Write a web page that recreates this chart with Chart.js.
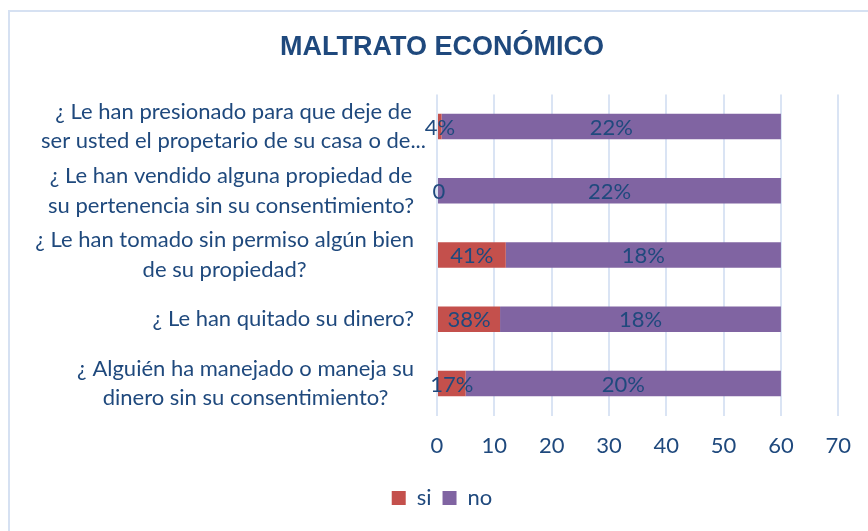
<!DOCTYPE html>
<html>
<head>
<meta charset="utf-8">
<script src="https://cdn.jsdelivr.net/npm/chart.js@4/dist/chart.umd.min.js"></script>
<style>
  html, body { margin: 0; padding: 0; background: #fff; }
  #wrap { width: 868px; height: 531px; position: relative; }
</style>
</head>
<body>
<div id="wrap"><canvas id="chart"></canvas></div>
<script>
(function() {
  // categories, top to bottom (each entry = lines of the label)
  var categories = [
    ['¿ Le han presionado para que deje de', 'ser usted el propetario de su casa o de...'],
    ['¿ Le han vendido alguna propiedad de', 'su pertenencia sin su consentimiento?'],
    ['¿ Le han tomado sin permiso algún bien', 'de su propiedad?'],
    ['¿ Le han quitado su dinero?'],
    ['¿ Alguién ha manejado o maneja su', 'dinero sin su consentimiento?']
  ];
  var siValues = [0.8, 0, 12, 11, 5];
  var noValues = [59.2, 60, 48, 49, 55];
  var siLabels = ['4%', '0', '41%', '38%', '17%'];
  var noLabels = ['22%', '22%', '18%', '18%', '20%'];
  var xTicks = [0, 10, 20, 30, 40, 50, 60, 70];

  var textColor = '#1F497D';
  var font = "Lato, 'Open Sans', sans-serif";

  // border of the chart frame (top and left edges are visible)
  var framePlugin = {
    id: 'frame',
    beforeDraw: function(chart) {
      var c = chart.ctx;
      c.save();
      c.fillStyle = '#fff';
      c.fillRect(0, 0, chart.width, chart.height);
      c.strokeStyle = '#D6E1F2';
      c.lineWidth = 2;
      c.beginPath();
      c.moveTo(9, chart.height);
      c.lineTo(9, 11);
      c.lineTo(chart.width, 11);
      c.stroke();
      c.restore();
    }
  };

  // y labels: block right aligned to the axis, lines centred in the block
  var yLabelPlugin = {
    id: 'yLabels',
    afterDraw: function(chart) {
      var c = chart.ctx;
      var y = chart.scales.y;
      c.save();
      c.font = '22px ' + font;
      c.fillStyle = textColor;
      c.textAlign = 'center';
      c.textBaseline = 'middle';
      var right = 414, lh = 29.5;
      categories.forEach(function(lines, i) {
        var w = 0;
        lines.forEach(function(l) { w = Math.max(w, c.measureText(l).width); });
        var cx = right - w / 2;
        if (i === 0) cx += 12;
        var cy = y.getPixelForValue(i);
        var top = cy - (lines.length - 1) * lh / 2;
        lines.forEach(function(l, k) { c.fillText(l, cx, top + k * lh); });
      });
      c.restore();
    }
  };

  // data labels centred in each segment
  var valueLabelPlugin = {
    id: 'valueLabels',
    afterDatasetsDraw: function(chart) {
      var c = chart.ctx;
      var texts = [siLabels, noLabels];
      c.save();
      c.font = '22px ' + font;
      c.fillStyle = textColor;
      c.textAlign = 'center';
      c.textBaseline = 'middle';
      chart.data.datasets.forEach(function(ds, di) {
        chart.getDatasetMeta(di).data.forEach(function(bar, i) {
          var x = (bar.x + bar.base) / 2;
          if (di === 0 && siValues[i] < 2) x = bar.base + 2;
          c.fillText(texts[di][i], x, bar.y + 1);
        });
      });
      c.restore();
    }
  };

  new Chart(document.getElementById('chart'), {
    type: 'bar',
    data: {
      labels: categories,
      datasets: [
        { label: 'si', data: siValues, backgroundColor: '#C4504C', categoryPercentage: 0.4, barPercentage: 1 },
        { label: 'no', data: noValues, backgroundColor: '#8064A2', categoryPercentage: 0.4, barPercentage: 1 }
      ]
    },
    options: {
      indexAxis: 'y',
      responsive: true,
      maintainAspectRatio: false,
      animation: false,
      layout: { padding: { left: 40, right: 24, top: 17, bottom: 12 } },
      plugins: {
        title: {
          display: true,
          text: 'MALTRATO ECONÓMICO',
          color: textColor,
          font: { family: "'Liberation Sans', Arial, sans-serif", size: 27, weight: 'bold' },
          padding: { top: 14, bottom: 31 }
        },
        legend: {
          position: 'bottom',
          labels: {
            color: textColor,
            font: { family: font, size: 22 },
            boxWidth: 14,
            boxHeight: 14,
            padding: 11
          }
        },
        tooltip: { enabled: false }
      },
      scales: {
        x: {
          stacked: true,
          min: 0,
          max: 70,
          afterBuildTicks: function(s) { s.ticks = xTicks.map(function(v) { return { value: v }; }); },
          ticks: { color: textColor, font: { family: font, size: 22 }, padding: 17 },
          grid: { color: '#DAE4F4', lineWidth: 2, drawTicks: false },
          border: { display: false }
        },
        y: {
          stacked: true,
          ticks: { display: false },
          grid: { display: false },
          border: { display: false },
          afterFit: function(s) { s.width = 397; }
        }
      }
    },
    plugins: [framePlugin, yLabelPlugin, valueLabelPlugin]
  });
})();
</script>
</body>
</html>
